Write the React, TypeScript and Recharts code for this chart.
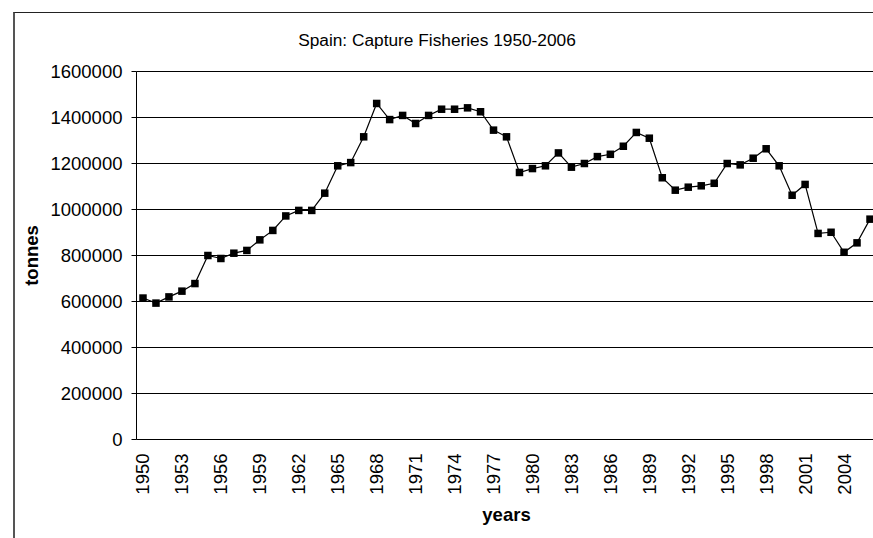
import React from 'react';
import { LineChart, Line, XAxis, YAxis, CartesianGrid, Label } from 'recharts';

const YEARS = [
  1950, 1951, 1952, 1953, 1954, 1955, 1956, 1957, 1958, 1959,
  1960, 1961, 1962, 1963, 1964, 1965, 1966, 1967, 1968, 1969,
  1970, 1971, 1972, 1973, 1974, 1975, 1976, 1977, 1978, 1979,
  1980, 1981, 1982, 1983, 1984, 1985, 1986, 1987, 1988, 1989,
  1990, 1991, 1992, 1993, 1994, 1995, 1996, 1997, 1998, 1999,
  2000, 2001, 2002, 2003, 2004, 2005, 2006,
];

// tonnes
const CATCH = [
  615000, 593000, 620000, 645000, 678000, 800000, 787000, 810000, 822000, 868000,
  909000, 972000, 996000, 996000, 1071000, 1190000, 1204000, 1316000, 1461000, 1391000,
  1409000, 1374000, 1409000, 1436000, 1436000, 1442000, 1425000, 1345000, 1316000, 1161000,
  1178000, 1190000, 1246000, 1184000, 1200000, 1230000, 1240000, 1275000, 1335000, 1310000,
  1138000, 1084000, 1097000, 1103000, 1114000, 1200000, 1194000, 1223000, 1264000, 1190000,
  1062000, 1109000, 896000, 901000, 814000, 855000, 958000,
];

const X_LABELS = [
  1950, 1953, 1956, 1959, 1962, 1965, 1968, 1971, 1974, 1977,
  1980, 1983, 1986, 1989, 1992, 1995, 1998, 2001, 2004,
];
const Y_TICKS = [0, 200000, 400000, 600000, 800000, 1000000, 1200000, 1400000, 1600000];

const data = YEARS.map((year, i) => ({ year, tonnes: CATCH[i] }));
// tick marks sit between the categories, like the spreadsheet original
const BOUNDS = [...YEARS.map((y) => y - 0.5), YEARS[YEARS.length - 1] + 0.5];
const DOMAIN: [number, number] = [BOUNDS[0], BOUNDS[BOUNDS.length - 1]];

const FONT = '"Liberation Sans", Arial, sans-serif';
const FS = 18.5;

const YearTick = (props: any) => {
  const { x, y, payload } = props;
  return (
    <g transform={`translate(${x},${y})`}>
      <text
        transform="rotate(-90)"
        textAnchor="end"
        dominantBaseline="central"
        fontFamily={FONT}
        fontSize={FS}
        fill="#000"
      >
        {payload.value}
      </text>
    </g>
  );
};

const Square = (props: any) => {
  const { cx, cy, index } = props;
  return <rect key={index} x={cx - 3.75} y={cy - 3.75} width={7.5} height={7.5} fill="#000" />;
};

export default function App() {
  return (
    <div
      style={{
        position: 'fixed',
        left: 0,
        top: 0,
        width: 873,
        height: 538,
        overflow: 'hidden',
        background: '#fff',
        fontFamily: FONT,
      }}
    >
      <div
        style={{
          position: 'absolute',
          left: 13,
          top: 12,
          width: 920,
          height: 600,
          borderLeft: '2px solid #555',
          borderTop: '1px solid #222',
        }}
      />
      <div
        style={{
          position: 'absolute',
          left: 0,
          top: 30,
          width: 874,
          textAlign: 'center',
          fontSize: 17.3,
          lineHeight: '20px',
          color: '#000',
        }}
      >
        Spain: Capture Fisheries 1950-2006
      </div>
      <div style={{ position: 'absolute', left: 0, top: 0 }}>
        <LineChart
          width={900}
          height={538}
          data={data}
          margin={{ top: 71.5, right: 23.5, left: 26.5, bottom: 17.5 }}
        >
          <CartesianGrid vertical={false} stroke="#000" strokeWidth={1} />
          <XAxis
            xAxisId="marks"
            type="number"
            dataKey="year"
            domain={DOMAIN}
            ticks={BOUNDS}
            interval={0}
            tick={false}
            height={0}
            tickSize={5}
            tickLine={{ stroke: '#444' }}
            axisLine={{ stroke: '#777', strokeWidth: 1.5 }}
            allowDataOverflow
          />
          <XAxis
            xAxisId="main"
            type="number"
            dataKey="year"
            domain={DOMAIN}
            ticks={X_LABELS}
            interval={0}
            tick={<YearTick />}
            tickLine={false}
            axisLine={false}
            tickSize={0}
            tickMargin={14}
            height={81}
            allowDataOverflow
          >
            <Label
              content={(p: any) => {
                const vb = p.viewBox || {};
                return (
                  <text
                    x={vb.x + vb.width / 2}
                    y={vb.y + vb.height}
                    textAnchor="middle"
                    fontFamily={FONT}
                    fontSize={FS}
                    fontWeight="bold"
                    fill="#000"
                  >
                    years
                  </text>
                );
              }}
            />
          </XAxis>
          <YAxis
            type="number"
            domain={[0, 1600000]}
            ticks={Y_TICKS}
            interval={0}
            width={110}
            tickSize={5}
            tickMargin={9}
            tickLine={{ stroke: '#000' }}
            axisLine={{ stroke: '#000' }}
            tick={{ fill: '#000', fontSize: FS, fontFamily: FONT }}
          >
            <Label
              content={(p: any) => {
                const vb = p.viewBox || {};
                const cx = vb.x + 5;
                const cy = vb.y + vb.height / 2;
                return (
                  <text
                    x={cx}
                    y={cy}
                    transform={`rotate(-90, ${cx}, ${cy})`}
                    textAnchor="middle"
                    dominantBaseline="central"
                    fontFamily={FONT}
                    fontSize={FS}
                    fontWeight="bold"
                    fill="#000"
                  >
                    tonnes
                  </text>
                );
              }}
            />
          </YAxis>
          <Line
            xAxisId="main"
            type="linear"
            dataKey="tonnes"
            stroke="#000"
            strokeWidth={1.2}
            dot={Square}
            activeDot={false}
            isAnimationActive={false}
          />
        </LineChart>
      </div>
    </div>
  );
}
